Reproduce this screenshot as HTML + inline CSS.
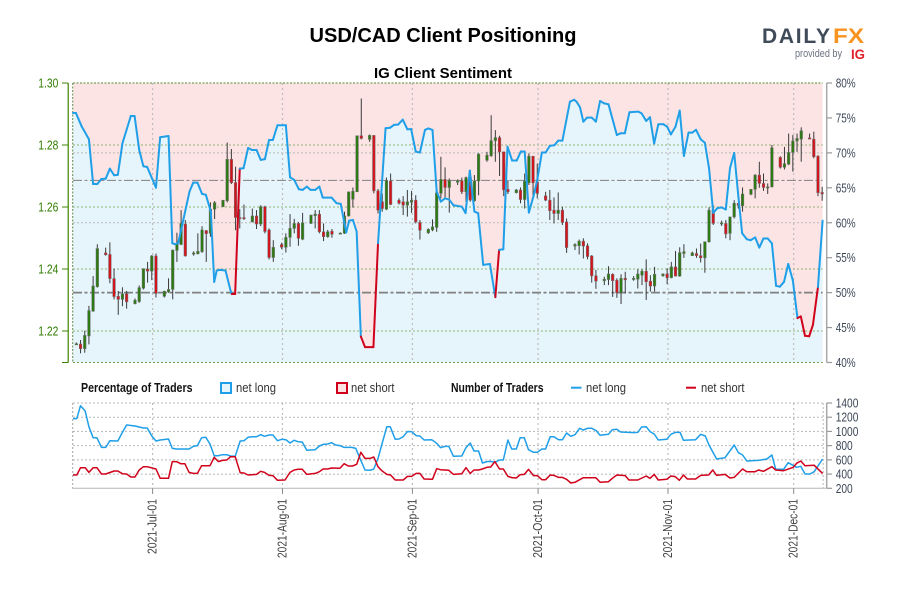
<!DOCTYPE html>
<html lang="en">
<head>
<meta charset="utf-8">
<title>USD/CAD Client Positioning</title>
<style>
html,body{margin:0;padding:0;background:#fff;width:900px;height:600px;overflow:hidden}
svg{display:block}
text{font-family:"Liberation Sans",sans-serif}
.narrow{font-family:"Liberation Sans Narrow","Liberation Sans",sans-serif}
</style>
</head>
<body>
<svg id="chart" width="900" height="600" viewBox="0 0 900 600" xmlns="http://www.w3.org/2000/svg">
  <rect x="0" y="0" width="900" height="600" fill="#ffffff"/>
  <text x="443" y="42" text-anchor="middle" font-size="20" font-weight="700" fill="#000" textLength="267" lengthAdjust="spacingAndGlyphs">USD/CAD Client Positioning</text>
  <text x="443" y="78" text-anchor="middle" font-size="15" font-weight="700" fill="#000" textLength="138" lengthAdjust="spacingAndGlyphs">IG Client Sentiment</text>

  <g>
    <text x="762" y="43" font-size="21" font-weight="700" fill="#404b5a" textLength="68" lengthAdjust="spacing">DAILY</text>
    <text x="833" y="43" font-size="21" font-weight="700" fill="#f7931e" textLength="31" lengthAdjust="spacingAndGlyphs">FX</text>
    <text x="795" y="57" font-size="11" fill="#6b7280" textLength="47" lengthAdjust="spacingAndGlyphs">provided by</text>
    <text x="851" y="59" font-size="14" font-weight="700" fill="#e3202c" textLength="14" lengthAdjust="spacingAndGlyphs">IG</text>
  </g>

  <g id="upper-panel"></g>
  <g id="lower-panel"></g>

  <g>
    <text class="narrow" x="81" y="392" font-size="13" font-weight="700" fill="#111" textLength="111.5" lengthAdjust="spacingAndGlyphs">Percentage of Traders</text>
    <rect x="221" y="383" width="10" height="10" fill="#e6f4fc" stroke="#1f9fe8" stroke-width="2"/>
    <text class="narrow" x="236" y="392" font-size="13" fill="#333" textLength="40" lengthAdjust="spacingAndGlyphs">net long</text>
    <rect x="337" y="383" width="10" height="10" fill="#fce4e4" stroke="#d0021b" stroke-width="2"/>
    <text class="narrow" x="351" y="392" font-size="13" fill="#333" textLength="43.5" lengthAdjust="spacingAndGlyphs">net short</text>
    <text class="narrow" x="451" y="392" font-size="13" font-weight="700" fill="#111" textLength="92.5" lengthAdjust="spacingAndGlyphs">Number of Traders</text>
    <line x1="571" y1="387.7" x2="581.5" y2="387.7" stroke="#1f9fe8" stroke-width="2"/>
    <text class="narrow" x="586" y="392" font-size="13" fill="#333" textLength="40" lengthAdjust="spacingAndGlyphs">net long</text>
    <line x1="686" y1="387.7" x2="696" y2="387.7" stroke="#d0021b" stroke-width="2"/>
    <text class="narrow" x="701" y="392" font-size="13" fill="#333" textLength="43.5" lengthAdjust="spacingAndGlyphs">net short</text>
  </g>
</svg>

<script>
// ---- Axis data ----
const priceTicks = [1.30, 1.28, 1.26, 1.24, 1.22];
const percentTicks = [80, 75, 70, 65, 60, 55, 50, 45, 40];
const percentGrid = [70, 60];
const traderTicks = [1400, 1200, 1000, 800, 600, 400, 200];
const monthDays = [19, 50, 81, 111, 142, 172];
const monthLabels = ['2021-Jul-01', '2021-Aug-01', '2021-Sep-01', '2021-Oct-01', '2021-Nov-01', '2021-Dec-01'];
const neutralPercent = 50;
const referencePrice = 1.2686;

// ---- Candles: calendar day index, prices x 10000 ----
const candleDays = [
0,1,2,3,4,5,
7,8,9,10,11,12,
14,15,16,17,18,19,
21,22,23,24,25,26,
28,29,30,31,32,33,
35,36,37,38,39,40,
42,43,44,45,46,47,
49,50,51,52,53,54,
56,57,58,59,60,61,
63,64,65,66,67,68,
70,71,72,73,74,75,
77,78,79,80,81,82,
84,85,86,87,88,89,
91,92,93,94,95,96,
98,99,100,101,102,103,
105,106,107,108,109,110,
112,113,114,115,116,117,
119,120,121,122,123,124,
126,127,128,129,130,131,
133,134,135,136,137,138,
140,141,142,143,144,145,
147,148,149,150,151,152,
154,155,156,157,158,159,
161,162,163,164,165,166,
168,169,170,171,172,173,
175,176,177,178];
const candleOpen = [
12157,12158,12143,12184,12264,12343,
12452,12447,12369,12312,12302,12320,
12288,12295,12338,12400,12393,12442,
12312,12326,12334,12460,12479,12545,
12448,12449,12456,12524,12515,12593,
12601,12620,12754,12679,12566,12566,
12552,12571,12545,12601,12526,12437,
12479,12470,12502,12531,12547,12496,
12547,12572,12577,12520,12504,12522,
12514,12515,12571,12625,12649,12830,
12818,12831,12652,12617,12593,12684,
12622,12617,12606,12615,12622,12550,
12517,12526,12534,12644,12689,12663,
12680,12685,12649,12695,12620,12684,
12751,12765,12814,12824,12778,12657,
12646,12655,12624,12678,12764,12681,
12636,12622,12590,12579,12590,12552,
12474,12475,12490,12475,12442,12378,
12362,12366,12383,12364,12323,12370,
12366,12367,12380,12393,12361,12345,
12378,12384,12372,12407,12377,12450,
12443,12450,12443,12436,12488,12590,
12546,12547,12515,12568,12612,12604,
12641,12657,12703,12676,12663,12665,
12760,12728,12738,12776,12813,12819,
12823,12819,12764,12647];
const candleHigh = [
12163,12171,12201,12281,12377,12480,
12469,12486,12401,12329,12341,12329,
12305,12347,12402,12423,12445,12450,
12330,12370,12463,12517,12590,12558,
12457,12515,12538,12526,12615,12619,
12622,12808,12787,12730,12593,12608,
12595,12590,12606,12604,12531,12493,
12485,12515,12577,12562,12552,12581,
12575,12590,12590,12547,12526,12529,
12518,12585,12649,12663,12830,12950,
12834,12831,12658,12644,12695,12708,
12628,12635,12655,12652,12638,12558,
12531,12560,12652,12762,12728,12692,
12689,12695,12698,12719,12703,12773,
12778,12896,12848,12830,12778,12687,
12658,12663,12708,12773,12764,12740,
12649,12655,12631,12647,12601,12563,
12483,12495,12499,12483,12445,12397,
12375,12409,12386,12370,12383,12391,
12377,12399,12399,12431,12380,12407,
12386,12402,12423,12458,12470,12480,
12456,12466,12482,12488,12599,12606,
12556,12558,12568,12622,12614,12663,
12657,12706,12746,12708,12676,12800,
12764,12794,12837,12832,12837,12857,
12837,12843,12767,12665];
const candleLow = [
12155,12128,12130,12157,12262,12340,
12443,12354,12302,12252,12280,12272,
12286,12291,12334,12356,12364,12308,
12308,12323,12302,12423,12477,12440,
12443,12447,12452,12423,12504,12561,
12601,12615,12674,12525,12531,12558,
12550,12529,12538,12515,12431,12423,
12464,12453,12472,12515,12475,12493,
12545,12531,12515,12490,12501,12501,
12512,12513,12569,12598,12649,12818,
12810,12644,12579,12585,12590,12606,
12608,12574,12569,12581,12547,12495,
12513,12522,12520,12628,12631,12582,
12671,12642,12617,12617,12617,12638,
12746,12762,12746,12700,12635,12642,
12644,12612,12595,12671,12628,12628,
12619,12558,12547,12558,12542,12452,
12461,12447,12434,12431,12356,12336,
12348,12348,12310,12307,12287,12321,
12362,12337,12348,12300,12327,12327,
12375,12351,12370,12377,12375,12436,
12442,12436,12421,12388,12485,12542,
12539,12499,12493,12563,12595,12585,
12638,12628,12662,12652,12642,12663,
12724,12721,12735,12714,12778,12746,
12819,12757,12635,12620];
const candleClose = [
12159,12143,12186,12266,12345,12466,
12446,12369,12311,12302,12320,12294,
12299,12340,12401,12393,12442,12321,
12328,12334,12461,12483,12547,12442,
12452,12457,12526,12514,12593,12614,
12622,12754,12678,12566,12562,12562,
12571,12545,12601,12521,12437,12470,
12470,12502,12531,12547,12499,12549,
12574,12577,12520,12504,12520,12512,
12516,12571,12649,12651,12830,12821,
12831,12652,12590,12595,12685,12608,
12612,12606,12617,12622,12552,12525,
12528,12536,12646,12689,12663,12685,
12686,12649,12695,12622,12684,12771,
12767,12814,12824,12778,12655,12649,
12655,12624,12684,12764,12678,12644,
12622,12588,12579,12590,12550,12469,
12479,12490,12474,12440,12378,12361,
12367,12384,12362,12323,12370,12365,
12370,12384,12393,12359,12345,12383,
12384,12372,12407,12377,12453,12456,
12452,12443,12436,12488,12590,12547,
12549,12513,12568,12612,12605,12642,
12657,12703,12676,12663,12665,12791,
12728,12740,12776,12813,12821,12846,
12820,12762,12646,12642];

// ---- Net-long percentage line ----
const sentimentDays = [
0,.7,2.1,3.8,4.8,5.8,6.8,7.8,8.8,9.8,10.7,11.8,13.8,14.7,15.8,16.8,17.7,19.8,20.8,22.8,
23.7,24.3,25.1,27.8,28.7,29.7,30.8,31.7,32.9,33.7,34.3,35.1,36.4,37.7,37.9,38.7,39.8,40.7,41.8,42.7,
43.8,44.8,45.8,46.8,47.7,48.8,50.8,51.8,52.8,53.9,54.8,55.8,56.7,57.8,58.8,59.6,61.7,62.9,63.9,65.2,
65.9,66.8,67.7,68.7,69.7,71.7,72.8,74.6,75.7,76.6,77.6,78.7,79.8,80.7,81.8,82.8,84,84.8,85.8,86.8,
87.8,88.8,89.8,90.8,92.8,93.7,94.7,95.8,96.7,97.9,99.5,100.8,101.7,102.7,103.7,104.8,105.9,106.9,107.8,108.8,
109.9,110.8,111.9,112.8,113.8,114.9,115.8,116.8,118.6,119.6,120.2,121,121.8,122.7,123.8,124.8,125.8,126.7,127.8,129.8,
130.7,131.7,132.8,134.9,135.7,136.8,137.7,138.7,139.7,140.9,141.8,142.7,143.8,144.8,145.8,146.9,147.8,148.7,149.8,150.8,
151.8,152.8,153.8,154.8,155.8,156.8,157.8,158.8,159.7,160.8,161.7,162.8,163.8,164.8,165.8,166.8,167.8,168.7,169.7,170.7,
171.8,172.9,173.7,174.7,175.7,176.6,177.8,178.9];
const netLongPercent = [
75.7,75.7,73.75,71.95,65.55,65.55,66.27,66.3,67.74,66.8,66.85,71.37,75.28,75.28,70.42,68.08,67.98,65.02,72.23,72.42,
57.07,56.93,57.07,64.45,65.74,65.74,64.13,64,61.6,51.54,53.16,53.26,53.16,50.05,49.8,49.8,67.74,67.8,70.7,70.42,
70.42,69,69.1,71.85,71.85,73.95,73.95,66.51,66.13,64.8,64.7,65.17,64.7,64.7,65.17,63.6,63.6,62.8,62.7,58.6,
60.3,60.4,58.73,43.72,42.2,42.2,57.07,73.52,73.6,74,74.05,74.75,73.38,73.4,70.18,70.05,73.28,73.5,73.28,64.45,
63.03,63.5,63.3,62.51,62.3,61.37,67.46,61.6,61.37,53.97,54.1,49.35,56.12,56.2,70.89,68.9,68.9,70.2,70.2,61.45,
63.8,66.13,70.05,70.05,71,71.1,71.75,71.75,77.33,77.6,77.3,76.53,74.47,75.05,75.05,74.47,77.43,77.1,76.95,72.56,
72.8,72.8,75.81,75.9,75.65,74.57,75.1,71.35,74.1,74.1,73.75,72.65,73.75,76.05,69.56,72.9,72.9,73.3,71.95,71.45,
67.8,61.41,62.1,62.2,61.9,67.8,70,63.75,58.5,57.65,57.5,57.9,56.45,57.75,57.75,57.05,50.97,50.85,51.55,54.1,
51.75,46.35,46.6,43.82,43.75,45.4,50.8,60.3];

// ---- Number of traders: net long ----
const longCountDays = [
0,.9,1.8,2.9,3.8,4.8,5.7,6.8,7.8,8.8,10.7,11.8,12.8,14.8,16.8,17.7,18.8,19.8,20.8,22.8,
23.7,24.7,27.7,28.7,29.7,30.7,31.7,32.7,33.7,34.7,35.6,36.7,37.6,38.7,39.9,40.8,41.8,42.8,43.8,44.8,
45.7,46.8,47.7,48.8,49.8,50.8,51.8,52.8,53.7,54.7,55.8,56.8,57.8,58.8,59.7,60.8,61.7,62.7,63.7,64.7,
66.5,67.5,68.5,69.7,70.9,71.8,72.8,74.9,75.7,76.9,77.8,78.8,79.8,80.8,81.9,82.8,83.8,85.6,86.8,87.7,
88.8,89.7,90.8,92.8,93.8,94.8,95.7,96.8,97.7,98.8,99.7,100.7,101.8,102.7,103.8,104.7,105.8,106.7,107.7,108.7,
109.9,110.8,111.9,112.8,113.9,114.8,115.9,116.8,117.8,118.8,119.8,120.9,121.8,122.8,123.8,124.8,125.8,127.8,128.7,129.8,
130.7,133.8,134.8,135.7,136.8,137.7,138.7,139.7,141.7,142.7,143.7,144.9,145.7,148.6,149.8,150.9,151.8,153.6,155.6,157.8,
158.8,159.8,160.8,163.6,165.6,166.8,167.7,169.6,170.7,172.7,173.7,174.7,175.9,176.9,178.9];
const longCounts = [
1180,1180,1362,1287,1067,912,912,776,776,870,865,987,1090,1076,1048,1048,936,865,879,893,
762,753,753,790,800,912,917,823,659,659,673,673,654,650,865,870,917,926,926,954,
931,950,950,870,889,884,837,875,856,851,734,739,743,795,818,823,842,809,800,776,
776,762,621,457,453,471,621,1067,1067,889,893,926,997,997,940,936,879,884,833,772,
790,790,650,654,772,837,725,725,556,575,579,565,598,598,879,753,753,912,912,743,
706,706,753,753,926,926,884,884,978,931,954,1044,1020,1044,1044,1015,945,959,1025,1030,
992,983,987,1062,1067,997,964,879,889,959,987,987,875,884,959,936,809,612,631,809,
701,668,584,593,612,668,467,467,560,495,509,401,401,434,612];

// ---- Number of traders: net short ----
const shortCountDays = [
0,.9,1.8,2.9,3.8,4.8,5.7,6.8,7.8,9.8,10.7,11.8,12.8,13.8,14.8,15.8,16.8,17.7,19.8,20.8,
22.8,23.7,24.7,25.7,26.7,27.7,28.7,29.7,30.7,32.7,33.7,34.7,35.6,36.7,37.6,38.7,39.9,40.8,41.8,43.8,
44.8,45.7,46.8,47.7,48.8,50.6,51.8,52.8,53.7,54.7,55.8,57.8,58.8,59.7,60.8,61.7,63.7,64.7,65.7,66.7,
67.7,68.7,69.7,70.9,71.8,72.8,73.7,74.9,75.8,76.9,78.8,79.8,80.8,81.9,82.8,83.8,85.8,86.8,87.7,89.7,
90.8,92.8,93.8,94.8,95.7,96.8,97.7,98.8,99.7,100.7,101.8,102.7,103.8,104.7,105.8,106.7,107.7,108.7,109.9,110.8,
111.9,112.8,113.9,114.8,115.9,116.8,117.8,118.8,119.8,121.8,124.8,125.8,127.8,128.7,129.8,131.8,132.7,134.8,136.8,137.7,
138.7,139.7,141.7,142.7,143.7,144.7,145.7,146.6,148.6,149.8,151.7,152.7,153.6,155.6,156.8,157.8,159.8,160.8,162.8,163.6,
164.8,166.8,167.7,169.6,171.9,172.7,173.7,174.7,176.9,178.9];
const shortCounts = [
387,387,490,490,424,490,490,401,401,443,443,406,401,359,359,457,504,504,471,340,
340,575,575,546,546,424,410,410,518,518,636,575,593,598,645,645,420,415,387,396,
439,424,382,378,312,317,424,457,467,467,396,410,434,471,471,485,481,546,514,514,
537,706,621,621,640,504,448,396,387,317,317,368,368,410,410,331,326,476,462,453,
396,406,490,410,457,457,471,495,500,575,471,471,368,350,345,392,396,467,378,378,
321,321,387,382,354,354,326,274,284,349,349,284,293,340,387,378,317,317,373,340,
396,317,326,373,364,312,387,331,331,382,387,457,382,396,345,354,471,434,434,457,
439,504,457,448,495,551,584,518,523,410];

// ---- Scales ----
const svgNS = 'http://www.w3.org/2000/svg';
const plotLeft = 73, dayWidth = 4.19, plotRightDay = 178.9;
const upperTop = 83, upperBottom = 362.5, lowerTop = 403, lowerBottom = 488.3;
const axisRight = 826.7, axisLeft = 68.2;
const candleTimeOfDay = 0.8;
const xDay = d => plotLeft + d * dayWidth;
const yPrice = p => upperTop + (1.30 - p) * 3100;
const yPercent = v => upperTop + (80 - v) * (upperBottom - upperTop) / 40;
const yCount = n => lowerBottom - (n - 200) * (lowerBottom - lowerTop) / 1200;
const plotRight = xDay(plotRightDay);

function make(parent, tag, attrs, content) {
  const el = document.createElementNS(svgNS, tag);
  for (const k in attrs) el.setAttribute(k, attrs[k]);
  if (content !== undefined) el.textContent = content;
  parent.appendChild(el);
  return el;
}
function pathOf(days, vals, yFn) {
  return days.map((d, i) => xDay(d).toFixed(1) + ',' + yFn(vals[i]).toFixed(1)).join(' ');
}

const upper = document.getElementById('upper-panel');
const lower = document.getElementById('lower-panel');

// Upper panel backgrounds
const shortZone = make(upper, 'rect', {x: plotLeft, y: upperTop, width: plotRight - plotLeft, height: upperBottom - upperTop, fill: '#fce4e4'});


const longZone = make(upper, 'polygon', {
  points: xDay(0) + ',' + upperBottom + ' ' + pathOf(sentimentDays, netLongPercent, yPercent) + ' ' + plotRight + ',' + upperBottom,
  fill: '#e6f4fc'
});



// Percent gridlines
percentGrid.forEach(v => {
  const g = make(upper, 'line', {x1: plotLeft, x2: plotRight, y1: yPercent(v), y2: yPercent(v), stroke: '#b9b9b9', 'stroke-width': 1, 'stroke-dasharray': '2 2'});
  
  
});

// Price gridlines, left axis
priceTicks.forEach(p => {
  const y = yPrice(p);
  if (p < 1.30) {
    const g = make(upper, 'line', {x1: plotLeft, x2: plotRight, y1: y, y2: y, stroke: '#8fb36f', 'stroke-width': 1, 'stroke-dasharray': '2 2'});
    
    
  }
  const t = make(upper, 'line', {x1: 62, x2: axisLeft, y1: y, y2: y, stroke: '#3c8400', 'stroke-width': 1});
  
  
  const lab = make(upper, 'text', {x: 58.3, y: y + 4.5, 'text-anchor': 'end', 'font-size': 13, fill: '#2f7d00', class: 'narrow', textLength: 20, lengthAdjust: 'spacingAndGlyphs'}, p.toFixed(2));
  
  
});

// Month gridlines, upper
monthDays.forEach(d => {
  const g = make(upper, 'line', {x1: xDay(d), x2: xDay(d), y1: upperTop, y2: upperBottom, stroke: '#bdbdbd', 'stroke-width': 1.2, 'stroke-dasharray': '2 3'});
  
  
});

// Plot borders
const topBorder = make(upper, 'line', {x1: plotLeft, x2: plotRight, y1: upperTop, y2: upperTop, stroke: '#4f8a2c', 'stroke-width': 1, 'stroke-dasharray': '2 1.5'});


const bottomBorder = make(upper, 'line', {x1: plotLeft, x2: plotRight, y1: upperBottom, y2: upperBottom, stroke: '#6d9e4b', 'stroke-width': 1, 'stroke-dasharray': '2 2'});


const leftBorder = make(upper, 'line', {x1: plotLeft - .3, x2: plotLeft - .3, y1: upperTop, y2: upperBottom, stroke: '#5f8a4c', 'stroke-width': 1, 'stroke-dasharray': '2 1.5'});


const priceAxis = make(upper, 'line', {x1: axisLeft, x2: axisLeft, y1: upperTop, y2: upperBottom, stroke: '#3c8400', 'stroke-width': 1.2});


const bottomTick = make(upper, 'line', {x1: 62, x2: axisLeft, y1: upperBottom, y2: upperBottom, stroke: '#3c8400', 'stroke-width': 1});



// Right percent axis
const pctAxis = make(upper, 'line', {x1: axisRight, x2: axisRight, y1: upperTop, y2: upperBottom, stroke: '#a8a8a8', 'stroke-width': 1.5});


percentTicks.forEach(v => {
  const y = yPercent(v);
  const t = make(upper, 'line', {x1: axisRight, x2: 832, y1: y, y2: y, stroke: '#999', 'stroke-width': 1.2});
  
  
  const lab = make(upper, 'text', {x: 835.7, y: y + 4.5, 'font-size': 13, fill: '#3d4757', class: 'narrow', textLength: 20, lengthAdjust: 'spacingAndGlyphs'}, v + '%');
  
  
});

// Reference lines
const neutralLine = make(upper, 'line', {x1: plotLeft, x2: plotRight, y1: yPercent(neutralPercent), y2: yPercent(neutralPercent), stroke: '#808080', 'stroke-width': 1.8, 'stroke-dasharray': '9 2.5 3 2.5'});


const priceLine = make(upper, 'line', {x1: plotLeft, x2: plotRight, y1: yPrice(referencePrice), y2: yPrice(referencePrice), stroke: '#808080', 'stroke-width': 1, 'stroke-dasharray': '9 2.5 3 2.5'});



// Candles
candleDays.forEach((k, i) => {
  const x = xDay(k + candleTimeOfDay);
  const up = candleClose[i] >= candleOpen[i];
  const topV = Math.max(candleOpen[i], candleClose[i]) / 10000;
  const botV = Math.min(candleOpen[i], candleClose[i]) / 10000;
  const wick = make(upper, 'line', {x1: x, x2: x, y1: yPrice(candleHigh[i] / 10000), y2: yPrice(candleLow[i] / 10000), stroke: '#3a3a3a', 'stroke-width': 1});
  
  
  const body = make(upper, 'rect', {
    x: x - 1.3, y: yPrice(topV), width: 2.6, height: Math.max(1.2, yPrice(botV) - yPrice(topV)),
    fill: up ? '#2c7a12' : '#d3141c', stroke: '#6f6f6f', 'stroke-width': .5
  });
  
  
});

// Sentiment line (red when the segment starts below 50 percent)
for (let i = 0; i < sentimentDays.length - 1; i++) {
  const seg = make(upper, 'line', {
    x1: xDay(sentimentDays[i]), y1: yPercent(netLongPercent[i]),
    x2: xDay(sentimentDays[i + 1]), y2: yPercent(netLongPercent[i + 1]),
    stroke: netLongPercent[i] < neutralPercent ? '#d0021b' : '#1f9fe8',
    'stroke-width': 2, 'stroke-linecap': 'round'
  });
  
  
}

// Lower panel grid
traderTicks.forEach(n => {
  const y = yCount(n);
  if (n > 200) {
    const g = make(lower, 'line', {x1: plotLeft, x2: plotRight, y1: y, y2: y, stroke: '#b9b9b9', 'stroke-width': 1, 'stroke-dasharray': '2 2'});
    
    
  }
  const t = make(lower, 'line', {x1: axisRight, x2: 832, y1: y, y2: y, stroke: '#999', 'stroke-width': 1.2});
  
  
  const lab = make(lower, 'text', {x: 835.7, y: y + 4.5, 'font-size': 13, fill: '#3d4757', class: 'narrow', textLength: n >= 1000 ? 22.7 : 17, lengthAdjust: 'spacingAndGlyphs'}, String(n));
  
  
});
const lowerLeft = make(lower, 'line', {x1: plotLeft - .3, x2: plotLeft - .3, y1: lowerTop, y2: lowerBottom, stroke: '#a5a5a5', 'stroke-width': 1, 'stroke-dasharray': '2 2'});


const lowerRight = make(lower, 'line', {x1: plotRight + .6, x2: plotRight + .6, y1: lowerTop, y2: lowerBottom, stroke: '#b9b9b9', 'stroke-width': 1, 'stroke-dasharray': '2 2'});


const lowerAxis = make(lower, 'line', {x1: axisRight, x2: axisRight, y1: lowerTop, y2: lowerBottom, stroke: '#a8a8a8', 'stroke-width': 1.5});


const timeAxis = make(lower, 'line', {x1: plotLeft - 1, x2: axisRight, y1: lowerBottom, y2: lowerBottom, stroke: '#b5b5b5', 'stroke-width': 1});



monthDays.forEach((d, i) => {
  const x = xDay(d);
  const g = make(lower, 'line', {x1: x, x2: x, y1: lowerTop, y2: lowerBottom, stroke: '#bdbdbd', 'stroke-width': 1.2, 'stroke-dasharray': '2 3'});
  
  
  const t = make(lower, 'line', {x1: x, x2: x, y1: lowerBottom, y2: 494, stroke: '#888', 'stroke-width': 1});
  
  
  const lab = make(lower, 'text', {
    x: 0, y: 0, 'text-anchor': 'end', 'font-size': 13, fill: '#444', class: 'narrow',
    transform: 'translate(' + (x + 4) + ',499) rotate(-90)',
    textLength: i === 0 ? 55 : 59, lengthAdjust: 'spacingAndGlyphs'
  }, monthLabels[i]);
  
  
});

// Trader count lines
const longLine = make(lower, 'polyline', {points: pathOf(longCountDays, longCounts, yCount), fill: 'none', stroke: '#1f9fe8', 'stroke-width': 1.5, 'stroke-linejoin': 'round'});


const shortLine = make(lower, 'polyline', {points: pathOf(shortCountDays, shortCounts, yCount), fill: 'none', stroke: '#d0021b', 'stroke-width': 1.5, 'stroke-linejoin': 'round'});


</script>
</body>
</html>
